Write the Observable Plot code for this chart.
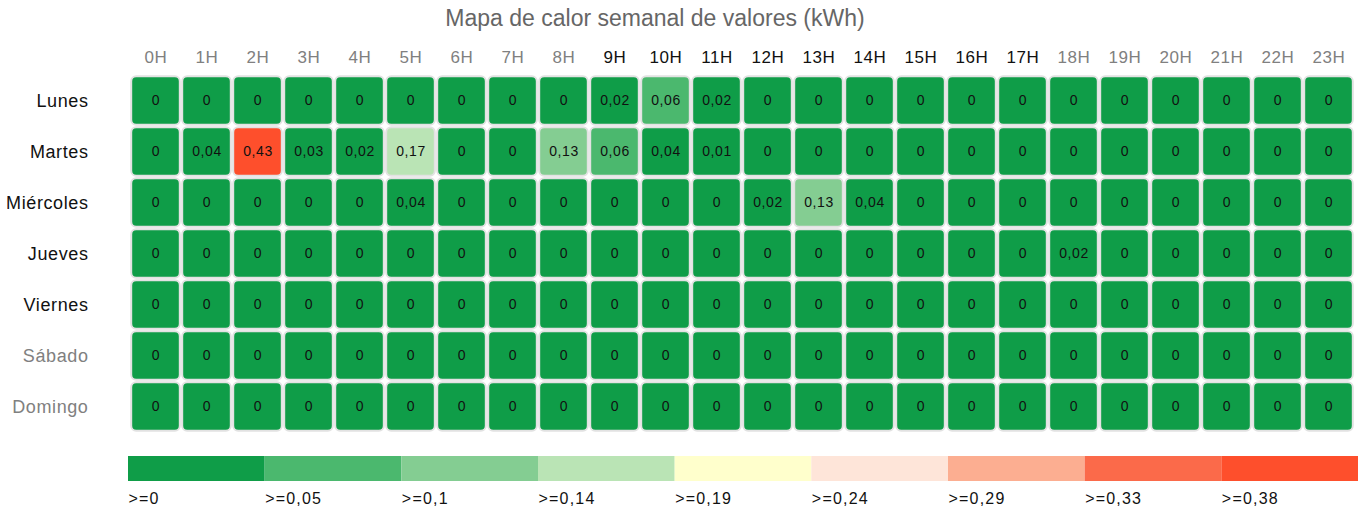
<!DOCTYPE html>
<html>
<head>
<meta charset="utf-8">
<script src="https://cdn.jsdelivr.net/npm/d3@7"></script>
<script src="https://cdn.jsdelivr.net/npm/@observablehq/plot@0.6"></script>
<style>
  body { margin: 0; background: #fff; font-family: "Liberation Sans", Arial, sans-serif; }
  #title { height: 36px; line-height: 36px; text-align: center; font-size: 23px; color: #666; padding-right: 54px; }
  svg { display: block; }
  #chart text { letter-spacing: 0.6px; }
  #legend text { letter-spacing: 1.2px; }
</style>
</head>
<body>
<div id="title">Mapa de calor semanal de valores (kWh)</div>
<div id="chart"></div>
<div id="legend"></div>
<script>
const hours = ["0H","1H","2H","3H","4H","5H","6H","7H","8H","9H","10H","11H","12H","13H","14H","15H","16H","17H","18H","19H","20H","21H","22H","23H"];
const highlightedHours = ["9H","10H","11H","12H","13H","14H","15H","16H","17H"];
const days = ["Lunes","Martes","Miércoles","Jueves","Viernes","Sábado","Domingo"];
const highlightedDays = ["Lunes","Martes","Miércoles","Jueves","Viernes"];

const lunes     = [0,0,0,0,0,0,0,0,0,0.02,0.06,0.02,0,0,0,0,0,0,0,0,0,0,0,0];
const martes    = [0,0.04,0.43,0.03,0.02,0.17,0,0,0.13,0.06,0.04,0.01,0,0,0,0,0,0,0,0,0,0,0,0];
const miercoles = [0,0,0,0,0,0.04,0,0,0,0,0,0,0.02,0.13,0.04,0,0,0,0,0,0,0,0,0];
const jueves    = [0,0,0,0,0,0,0,0,0,0,0,0,0,0,0,0,0,0,0.02,0,0,0,0,0];
const viernes   = [0,0,0,0,0,0,0,0,0,0,0,0,0,0,0,0,0,0,0,0,0,0,0,0];
const sabado    = [0,0,0,0,0,0,0,0,0,0,0,0,0,0,0,0,0,0,0,0,0,0,0,0];
const domingo   = [0,0,0,0,0,0,0,0,0,0,0,0,0,0,0,0,0,0,0,0,0,0,0,0];

const thresholds = [0.05,0.1,0.14,0.19,0.24,0.29,0.33,0.38];
const legendLabels = [">=0",">=0,05",">=0,1",">=0,14",">=0,19",">=0,24",">=0,29",">=0,33",">=0,38"];
const colors = ["#0f9d48","#4bb86e","#84cd92","#bae4b5","#ffffcc","#fee5d9","#fcae91","#fb6a4a","#fe4f2c"];

const series = [lunes, martes, miercoles, jueves, viernes, sabado, domingo];
const table = [];
days.forEach((d, i) => series[i].forEach((v, j) => table.push({day: d, hour: hours[j], value: v})));

const fmt = v => v === 0 ? "0" : String(v).replace(".", ",");

const W = 1364;
const chart = Plot.plot({
  width: W,
  height: 410,
  marginLeft: 127.5,
  marginRight: 7,
  marginTop: 38.4,
  marginBottom: 13.4,
  style: {fontFamily: "Liberation Sans, Arial, sans-serif", background: "#fff"},
  x: {domain: hours, padding: 0, axis: null},
  y: {domain: days, padding: 0, axis: null},
  color: {type: "threshold", domain: thresholds, range: colors},
  marks: [
    Plot.cell(table, {x: "hour", y: "day", fill: "value", inset: 1.2, rx: 5, stroke: "#e2e2e2", strokeWidth: 2}),
    Plot.text(table, {x: "hour", y: "day", text: d => fmt(d.value), fill: "#111", fontSize: 14}),
    Plot.text(hours, {x: d => d, frameAnchor: "top", lineAnchor: "middle", dy: -17.5, fontSize: 17,
      fill: d => highlightedHours.includes(d) ? "#111" : "#808080"}),
    Plot.text(days, {y: d => d, frameAnchor: "left", dx: -39.5, textAnchor: "end", fontSize: 18,
      fill: d => highlightedDays.includes(d) ? "#111" : "#808080"})
  ]
});
document.getElementById("chart").appendChild(chart);

const idx = legendLabels.map((l, i) => i);
const legend = Plot.plot({
  width: W,
  height: 64,
  marginLeft: 128,
  marginRight: 6,
  marginTop: 10,
  marginBottom: 29,
  style: {fontFamily: "Liberation Sans, Arial, sans-serif", background: "#fff"},
  x: {domain: [0, legendLabels.length], axis: null},
  y: {domain: [0, 1], axis: null},
  marks: [
    Plot.rect(idx, {x1: i => i, x2: i => i + 1, y1: 0, y2: 1, fill: i => colors[i]}),
    Plot.text(idx, {x: i => i, text: i => legendLabels[i], frameAnchor: "bottom", lineAnchor: "middle", dy: 17, textAnchor: "start", fontSize: 16, fill: "#111"})
  ]
});
document.getElementById("legend").appendChild(legend);
</script>
</body>
</html>
